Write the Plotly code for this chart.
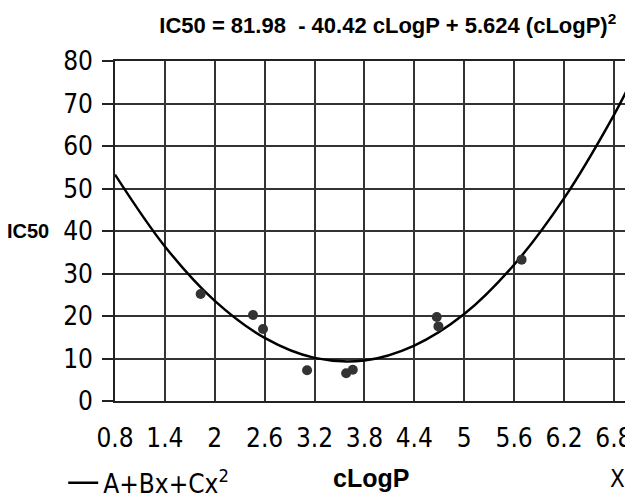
import plotly.graph_objects as go

# measured points (cLogP, IC50)
clogp = [1.83, 2.46, 2.58, 3.11, 3.58, 3.66, 4.67, 4.69, 5.69]
ic50 = [25.2, 20.3, 17.0, 7.3, 6.6, 7.4, 19.8, 17.6, 33.3]

# fitted curve: A+Bx+Cx^2
fit_x = [0.8, 1.4, 2.0, 2.6, 3.2, 3.8, 4.4, 5.0, 5.6, 6.2, 6.8, 7.03]
fit_y = [53.3, 36.4, 23.6, 14.9, 10.2, 9.6, 13.1, 20.5, 32.1, 47.7, 67.3, 76.0]

x_ticks = [0.8, 1.4, 2.0, 2.6, 3.2, 3.8, 4.4, 5.0, 5.6, 6.2, 6.8]
x_ticktext = ["0.8", "1.4", "2", "2.6", "3.2", "3.8", "4.4", "5", "5.6", "6.2", "6.8"]
y_ticks = [0, 10, 20, 30, 40, 50, 60, 70, 80]

narrow = "DejaVu Sans Condensed, Liberation Sans, Arial"
bold = "Liberation Sans, Arial"

fig = go.Figure()
fig.add_trace(go.Scatter(x=fit_x, y=fit_y, mode="lines", line_shape="spline",
                         line=dict(color="black", width=2.5), name="A+Bx+Cx<sup>2</sup>"))
fig.add_trace(go.Scatter(x=clogp, y=ic50, mode="markers", showlegend=False,
                         marker=dict(color="#333333", size=10)))

fig.update_layout(
    width=633, height=504,
    margin=dict(l=107, r=6, t=53, b=99),
    plot_bgcolor="white", paper_bgcolor="white",
    title=dict(text="<b>IC50 = 81.98  - 40.42 cLogP + 5.624 (cLogP)<sup>2</sup></b>",
               x=0.6, xanchor="center", y=0.965, yanchor="middle",
               font=dict(family=bold, size=22, color="black")),
    legend=dict(orientation="h", x=-0.1, xanchor="left", y=0.058, yanchor="middle",
                yref="container", font=dict(family=narrow, size=26, color="black"),
                bgcolor="rgba(0,0,0,0)"),
    annotations=[
        dict(text="<b>IC50</b>", x=-0.212, xref="paper", y=40, yref="y",
             xanchor="left", showarrow=False,
             font=dict(family=bold, size=20, color="black")),
        dict(text="<b>cLogP</b>", x=0.495, xref="paper", y=-0.225, yref="paper",
             yanchor="middle", showarrow=False,
             font=dict(family=bold, size=25, color="black")),
        dict(text="X", x=0.988, xref="paper", y=-0.228, yref="paper",
             yanchor="middle", showarrow=False,
             font=dict(family=narrow, size=24, color="black")),
    ],
)

fig.update_xaxes(range=[0.8, 7.03], tickvals=x_ticks, ticktext=x_ticktext,
                 showgrid=True, gridcolor="#333333", gridwidth=1.6,
                 showline=True, linecolor="#222222", linewidth=1.6, mirror=True,
                 ticks="", ticklabelstandoff=13, zeroline=False,
                 tickfont=dict(family=narrow, size=26, color="black"))
fig.update_yaxes(range=[0, 80], tickvals=y_ticks,
                 showgrid=True, gridcolor="#333333", gridwidth=1.6,
                 showline=True, linecolor="#222222", linewidth=1.6, mirror=True,
                 ticks="outside", ticklen=11, tickcolor="#222222", tickwidth=1.6,
                 zeroline=False, ticklabelstandoff=4,
                 tickfont=dict(family=narrow, size=26, color="black"))

fig.write_html("out.html")
